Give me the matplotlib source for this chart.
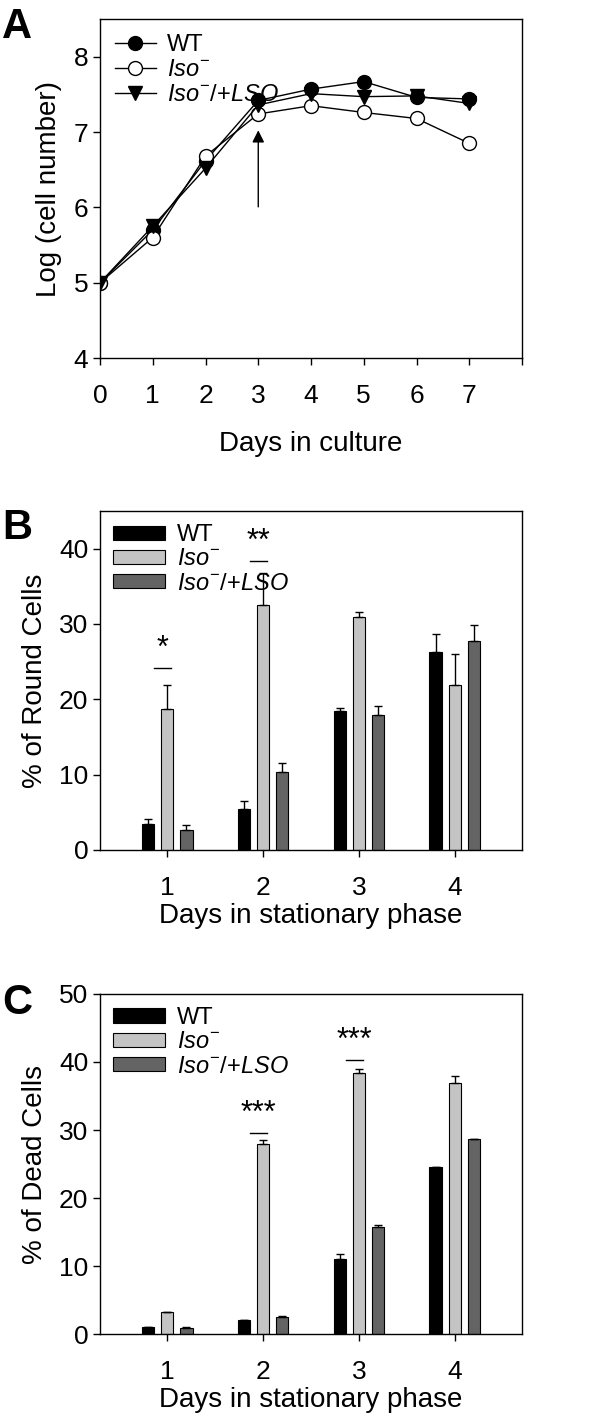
import numpy as np
import matplotlib
matplotlib.use("Agg")
import matplotlib.pyplot as plt

plt.rcParams['font.family'] = ['Liberation Sans', 'DejaVu Sans']
plt.rcParams['mathtext.fontset'] = 'custom'
plt.rcParams['mathtext.rm'] = 'Liberation Sans'
plt.rcParams['mathtext.it'] = 'Liberation Sans:italic'

# panel A: growth curve
days = [0, 1, 2, 3, 4, 5, 6, 7]
wt_growth = [5.0, 5.70, 6.62, 7.42, 7.57, 7.67, 7.46, 7.44]
iso_growth = [5.0, 5.60, 6.68, 7.24, 7.35, 7.26, 7.18, 6.85]
lso_growth = [5.0, 5.75, 6.52, 7.36, 7.51, 7.47, 7.48, 7.38]

# panel B: round cells
stat_days = [1, 2, 3, 4]
wt_round = [3.4, 5.5, 18.4, 26.3]
wt_round_err = [0.7, 1.0, 0.4, 2.4]
iso_round = [18.7, 32.5, 30.9, 21.9]
iso_round_err = [3.2, 4.3, 0.7, 4.1]
lso_round = [2.7, 10.4, 17.9, 27.8]
lso_round_err = [0.6, 1.1, 1.2, 2.0]

# panel C: dead cells
wt_dead = [1.1, 2.0, 11.1, 24.6]
wt_dead_err = [0.0, 0.1, 0.6, 0.0]
iso_dead = [3.2, 28.0, 38.4, 36.9]
iso_dead_err = [0.1, 0.5, 0.6, 1.0]
lso_dead = [0.9, 2.5, 15.7, 28.7]
lso_dead_err = [0.1, 0.1, 0.3, 0.0]

labels = ['WT', r'$Iso^{-}$', r'$Iso^{-}\mathit{/{+}LSO}$']
bar_colors = ['black', '#c4c4c4', '#646464']

tick_fs = 19
label_fs = 20
legend_fs = 17

fig = plt.figure(figsize=(6, 14.23), dpi=100)

def style_axes(ax):
    ax.tick_params(direction='out', length=5, width=1, labelsize=tick_fs,
                   top=False, right=False)
    for s in ax.spines.values():
        s.set_linewidth(1)

# ---- A ----
ax = fig.add_axes([0.1667, 0.7484, 0.7033, 0.2382])
ax.plot(days, wt_growth, '-o', color='black', mfc='black', mec='black',
        ms=10, lw=1, label=labels[0], zorder=3)
ax.plot(days, iso_growth, '-o', color='black', mfc='white', mec='black',
        ms=10, lw=1, label=labels[1], zorder=3)
ax.plot(days, lso_growth, '-v', color='black', mfc='black', mec='black',
        ms=10, lw=1, label=labels[2], zorder=3)
ax.annotate('', xy=(3, 7.06), xytext=(3, 5.97),
            arrowprops=dict(arrowstyle='-|>', color='black', lw=1,
                            mutation_scale=18))
ax.set_xlim(0, 8)
ax.set_ylim(4, 8.5)
ax.set_xticks(range(0, 9))
ax.set_xticklabels([str(d) for d in range(0, 8)] + [''])
ax.set_yticks([4, 5, 6, 7, 8])
ax.set_xlabel('Days in culture', fontsize=label_fs, labelpad=16)
ax.set_ylabel('Log (cell number)', fontsize=label_fs, labelpad=8)
ax.tick_params(axis='x', pad=14)
style_axes(ax)
ax.legend(loc='upper left', frameon=False, fontsize=legend_fs,
          handlelength=1.7, handletextpad=0.5, labelspacing=0.12,
          borderaxespad=0.45, borderpad=0.2)
fig.text(0.003, 0.995, 'A', fontsize=30, fontweight='bold', va='top')

def bar_panel(rect, wt, wt_e, iso, iso_e, lso, lso_e, ylim, yticks, ylabel,
              stars, letter, letter_y):
    ax = fig.add_axes(rect)
    x = np.array(stat_days, dtype=float)
    w = 0.13
    series = [(wt, wt_e), (iso, iso_e), (lso, lso_e)]
    for i, (vals, errs) in enumerate(series):
        ax.bar(x + (i - 1) * 0.2, vals, w, color=bar_colors[i],
               edgecolor='black', linewidth=0.8, label=labels[i],
               yerr=[np.zeros(len(errs)), errs], capsize=3,
               error_kw=dict(elinewidth=1, capthick=1, ecolor='black'))
    for day, y_line, txt in stars:
        ax.plot([day - 0.14, day + 0.04], [y_line, y_line], color='black', lw=1)
        ax.text(day - 0.05, y_line + ylim[1] * 0.012, txt, ha='center',
                va='bottom', fontsize=22)
    ax.set_xlim(0.3, 4.7)
    ax.set_ylim(*ylim)
    ax.set_xticks(stat_days)
    ax.set_yticks(yticks)
    ax.set_xlabel('Days in stationary phase', fontsize=label_fs, labelpad=2)
    ax.set_ylabel(ylabel, fontsize=label_fs, labelpad=8)
    ax.tick_params(axis='x', pad=14)
    style_axes(ax)
    ax.legend(loc='upper left', frameon=False, fontsize=legend_fs,
              handlelength=2.2, handleheight=0.55, handletextpad=0.5,
              labelspacing=0.1, borderaxespad=0.25, borderpad=0.3)
    fig.text(0.003, letter_y, letter, fontsize=30, fontweight='bold', va='top')
    return ax

bar_panel([0.1667, 0.4027, 0.7033, 0.2382], wt_round, wt_round_err,
          iso_round, iso_round_err, lso_round, lso_round_err,
          (0, 45), [0, 10, 20, 30, 40], '% of Round Cells',
          [(1, 24.1, '*'), (2, 38.3, '**')], 'B', 0.643)

bar_panel([0.1667, 0.0625, 0.7033, 0.239], wt_dead, wt_dead_err,
          iso_dead, iso_dead_err, lso_dead, lso_dead_err,
          (0, 50), [0, 10, 20, 30, 40, 50], '% of Dead Cells',
          [(2, 29.6, '***'), (3, 40.3, '***')], 'C', 0.309)

fig.savefig('out.png', dpi=100)
